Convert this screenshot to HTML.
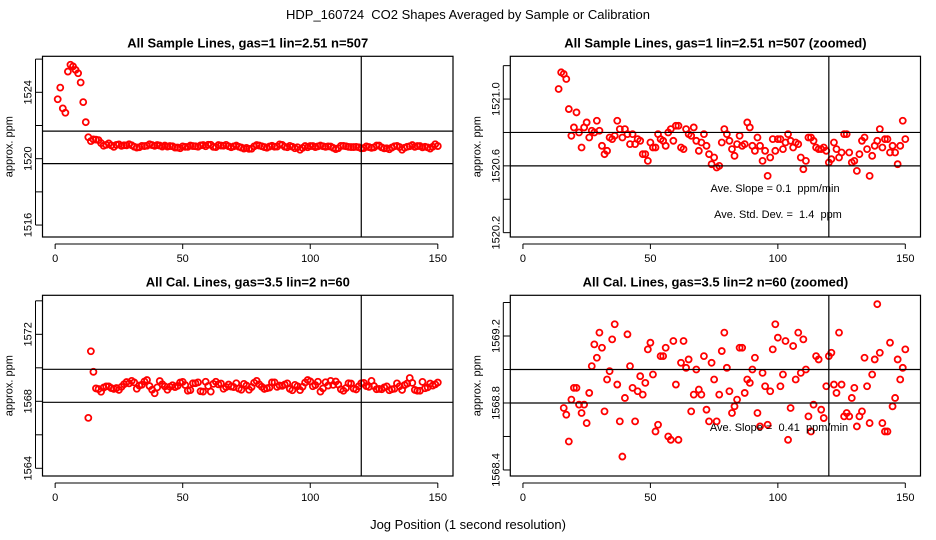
<!DOCTYPE html>
<html><head><meta charset="utf-8">
<style>
html,body{margin:0;padding:0;background:#fff;width:936px;height:540px;overflow:hidden;}
svg{display:block;}
svg text{font-family:"Liberation Sans",Arial,sans-serif;fill:#000;white-space:pre;}
</style></head>
<body>
<svg id="c" width="936" height="540" viewBox="0 0 936 540" xmlns="http://www.w3.org/2000/svg">
<text x="468" y="19" font-size="13" text-anchor="middle" xml:space="preserve">HDP_160724  CO2 Shapes Averaged by Sample or Calibration</text>
<text x="468" y="529" font-size="13" text-anchor="middle">Jog Position (1 second resolution)</text>
</svg>
<script>
// Sample series, x = 1..150
const sampleValues = [1523.58,1524.28,1523.03,1522.77,1525.25,1525.66,1525.56,1525.35,1525.15,1524.59,1523.41,1522.20,1521.29,
1521.06,1521.16,1521.15,1521.12,1520.94,1520.78,1520.83,1520.92,1520.80,1520.71,1520.83,1520.86,1520.77,1520.81,1520.80,1520.87,1520.81,
1520.72,1520.67,1520.69,1520.77,1520.76,1520.78,1520.87,1520.82,1520.77,1520.82,1520.79,1520.73,1520.79,1520.73,1520.76,1520.75,1520.67,1520.67,1520.63,1520.74,
1520.71,1520.71,1520.79,1520.76,1520.75,1520.72,1520.80,1520.82,1520.75,1520.84,1520.84,1520.71,1520.70,1520.82,1520.79,1520.78,1520.83,1520.75,1520.69,1520.74,
1520.79,1520.72,1520.67,1520.61,1520.65,1520.59,1520.60,1520.74,1520.82,1520.79,1520.75,1520.70,1520.66,1520.73,1520.78,1520.72,1520.73,1520.86,1520.83,1520.72,
1520.69,1520.77,1520.72,1520.63,1520.69,1520.54,1520.65,1520.76,1520.69,1520.76,1520.76,1520.70,1520.74,1520.79,1520.75,1520.71,1520.74,1520.73,1520.65,1520.58,
1520.63,1520.77,1520.77,1520.75,1520.71,1520.70,1520.70,1520.71,1520.69,1520.62,1520.64,1520.74,1520.70,1520.65,1520.68,1520.79,1520.79,1520.68,1520.62,1520.63,
1520.57,1520.67,1520.75,1520.77,1520.70,1520.54,1520.66,1520.72,1520.75,1520.82,1520.71,1520.76,1520.76,1520.68,1520.72,1520.68,1520.61,1520.72,1520.87,1520.76];
// Calibration series, x = 1..150 (null = no data)
const calValues = [null,null,null,null,null,null,null,null,null,null,null,null,1567.01,1570.99,1569.76,
1568.77,1568.73,1568.57,1568.82,1568.89,1568.89,1568.79,1568.74,1568.79,1568.68,1568.86,1569.02,1569.15,1569.07,1569.22,
1569.13,1568.75,1568.94,1568.99,1569.18,1569.27,1568.91,1568.69,1568.48,1568.83,1569.21,1569.02,1568.89,1568.69,1568.87,
1568.96,1568.85,1568.92,1569.12,1569.16,1568.97,1568.63,1568.67,1569.08,1569.08,1569.13,1568.60,1568.58,1569.17,1568.91,
1568.58,1569.04,1569.17,1569.01,1569.06,1568.75,1568.85,1569.00,1568.88,1568.85,1569.08,1568.76,1568.69,1569.04,1568.94,
1568.69,1568.85,1569.11,1569.22,1569.01,1568.87,1568.74,1568.78,1568.82,1569.13,1569.13,1568.86,1568.94,1568.92,1569.00,
1569.07,1568.74,1568.66,1568.98,1568.90,1568.67,1568.87,1569.12,1569.27,1569.19,1568.90,1568.97,1569.17,1568.58,1568.77,
1569.14,1568.94,1569.22,1568.98,1569.18,1569.00,1568.72,1568.63,1568.79,1569.08,1569.06,1568.76,1568.71,1568.90,1569.08,
1569.10,1568.91,1568.86,1569.22,1568.91,1568.72,1568.74,1568.72,1568.83,1568.89,1568.66,1568.72,1568.75,1569.07,1568.90,
1568.68,1568.97,1569.06,1569.39,1569.10,1568.68,1568.63,1568.63,1569.16,1568.78,1568.83,1569.06,1568.94,1569.01,1569.12];
const xTicks = [0,50,100,150];
const p1YTicks = [1516,1518,1520,1522,1524,1526];
const p1YLabels = ["1516","","1520","","1524",""];
const p2YTicks = [1520.2,1520.4,1520.6,1520.8,1521.0,1521.2];
const p2YLabels = ["1520.2","","1520.6","","1521.0",""];
const p3YTicks = [1564,1566,1568,1570,1572,1574];
const p3YLabels = ["1564","","1568","","1572",""];
const p4YTicks = [1568.4,1568.6,1568.8,1569.0,1569.2,1569.4];
const p4YLabels = ["1568.4","","1568.8","","1569.2",""];
const p1HLines = [1521.66,1519.70];
const p2HLines = [1520.8,1520.6];
const p3HLines = [1569.91,1567.94];
const p4HLines = [1569.0,1568.8];
const vLineX = 120;

const NS="http://www.w3.org/2000/svg";
const svg=document.getElementById('c');
function mk(tag,attrs,parent){const e=document.createElementNS(NS,tag);for(const k in attrs)e.setAttribute(k,attrs[k]);(parent||svg).appendChild(e);return e;}

const panels=[
 {id:'p1',title:'All Sample Lines, gas=1 lin=2.51 n=507',L:42.5,T:56.3,R:453,B:237,ymin:1515.28,ymax:1526.17,vals:sampleValues,yt:p1YTicks,yl:p1YLabels,hl:p1HLines,notes:[]},
 {id:'p2',title:'All Sample Lines, gas=1 lin=2.51 n=507 (zoomed)',L:510.3,T:56.3,R:920.5,B:237,ymin:1520.174,ymax:1521.256,vals:sampleValues,yt:p2YTicks,yl:p2YLabels,hl:p2HLines,
  notes:[{t:'Ave. Slope = 0.1  ppm/min',x:775,y:192},{t:'Ave. Std. Dev. =  1.4  ppm',x:778,y:218}]},
 {id:'p3',title:'All Cal. Lines, gas=3.5 lin=2 n=60',L:42.5,T:295.3,R:453,B:476,ymin:1563.54,ymax:1574.33,vals:calValues,yt:p3YTicks,yl:p3YLabels,hl:p3HLines,notes:[]},
 {id:'p4',title:'All Cal. Lines, gas=3.5 lin=2 n=60 (zoomed)',L:510.3,T:295.3,R:920.5,B:476,ymin:1568.364,ymax:1569.443,vals:calValues,yt:p4YTicks,yl:p4YLabels,hl:p4HLines,
  notes:[{t:'Ave. Slope =  0.41  ppm/min',x:779,y:431}]}
];
const XMIN=-4.96, XMAX=155.96;
panels.forEach((p,pi)=>{
  const g=mk('g',{});
  
  
  const sx=v=>p.L+(v-XMIN)/(XMAX-XMIN)*(p.R-p.L);
  const sy=v=>p.B-(v-p.ymin)/(p.ymax-p.ymin)*(p.B-p.T);
  const cx=(p.L+p.R)/2;
  const t=mk('text',{x:cx,y:p.T-9,'font-size':13,'font-weight':'bold','text-anchor':'middle'},g);
  t.textContent=p.title;
  
  
  const yl=mk('text',{x:0,y:0,'font-size':11,'text-anchor':'middle',transform:`translate(${p.L-30},${(p.T+p.B)/2}) rotate(-90)`},g);
  yl.textContent='approx. ppm';
  
  
  const cp=mk('clipPath',{id:'clip'+pi},g);
  mk('rect',{x:p.L,y:p.T,width:p.R-p.L,height:p.B-p.T},cp);
  const pts=mk('g',{'clip-path':`url(#clip${pi})`},g);
  
  
  p.vals.forEach((v,i)=>{
    if(v===null)return;
    const c=mk('circle',{cx:sx(i+1),cy:sy(v),r:3,fill:'none',stroke:'#f00','stroke-width':1.8},pts);
    
    
  });
  p.hl.forEach(h=>{
    const l=mk('line',{x1:p.L,x2:p.R,y1:sy(h),y2:sy(h),stroke:'#000','stroke-width':1.2},g);
    
    
  });
  const vl=mk('line',{x1:sx(vLineX),x2:sx(vLineX),y1:p.T,y2:p.B,stroke:'#000','stroke-width':1.2},g);
  
  
  const box=mk('rect',{x:p.L,y:p.T,width:p.R-p.L,height:p.B-p.T,fill:'none',stroke:'#000','stroke-width':1.2},g);
  
  
  const xa=mk('g',{},g);
  
  
  mk('line',{x1:sx(xTicks[0]),x2:sx(xTicks[xTicks.length-1]),y1:p.B+7,y2:p.B+7,stroke:'#000','stroke-width':1},xa);
  xTicks.forEach(v=>{
    mk('line',{x1:sx(v),x2:sx(v),y1:p.B+7,y2:p.B+12,stroke:'#000','stroke-width':1},xa);
    const tl=mk('text',{x:sx(v),y:p.B+25,'font-size':11,'text-anchor':'middle'},xa);
    tl.textContent=v;
    
    
  });
  const ya=mk('g',{},g);
  
  
  p.yt.forEach((v,i)=>{
    mk('line',{x1:p.L-7,x2:p.L,y1:sy(v),y2:sy(v),stroke:'#000','stroke-width':1},ya);
    if(p.yl[i]){
      const tl=mk('text',{x:0,y:0,'font-size':11,'text-anchor':'middle',transform:`translate(${p.L-11},${sy(v)}) rotate(-90)`},ya);
      tl.textContent=p.yl[i];
      
      
    }
  });
  mk('line',{x1:p.L-7,x2:p.L-7,y1:sy(p.yt[0]),y2:sy(p.yt[p.yt.length-1]),stroke:'#000','stroke-width':1},ya);
  p.notes.forEach(n=>{
    const tn=mk('text',{x:n.x,y:n.y,'font-size':11,'text-anchor':'middle'},g);
    tn.setAttribute('xml:space','preserve');
    tn.textContent=n.t;
    
    
  });
});
</script>
</body></html>
